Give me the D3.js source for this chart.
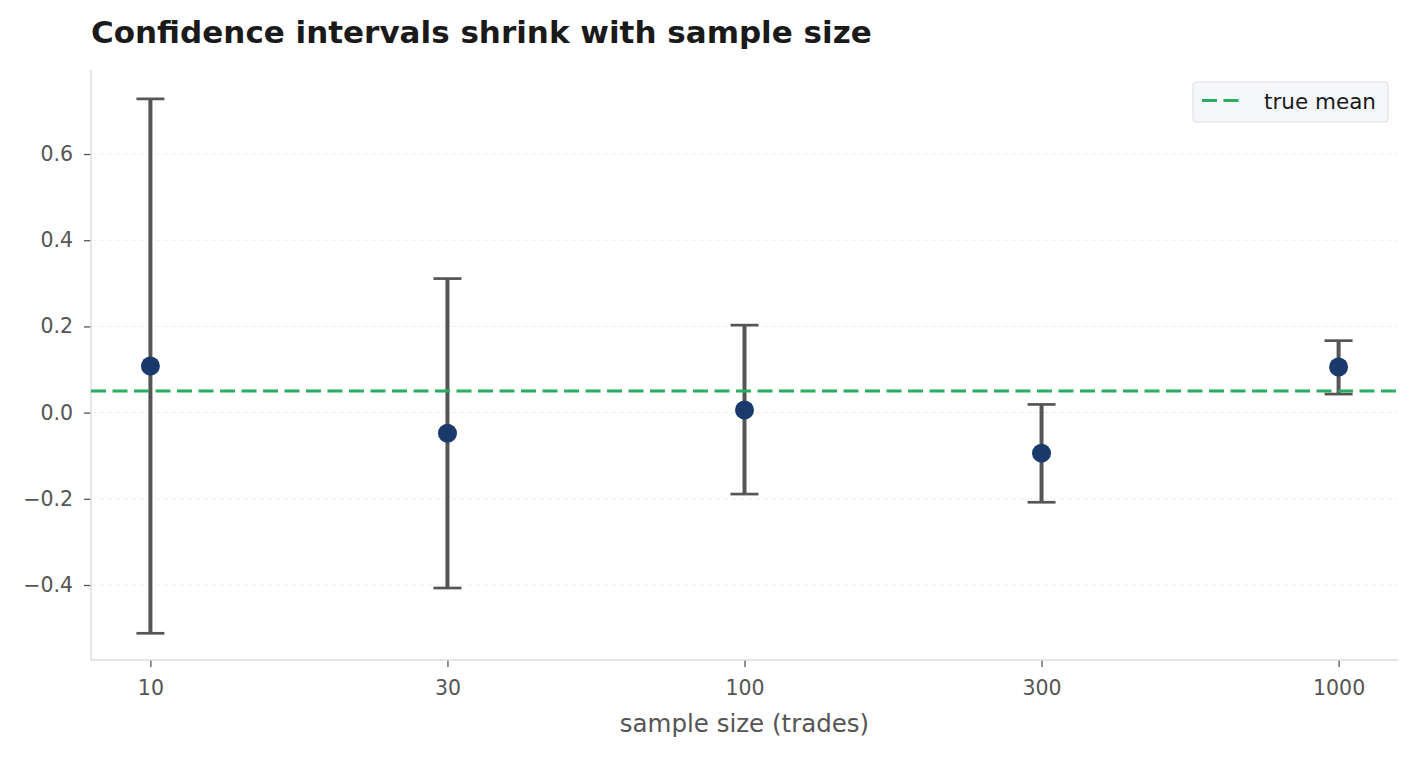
<!DOCTYPE html>
<html><head><meta charset="utf-8">
<script src="https://cdn.jsdelivr.net/npm/d3@7"></script>
<style>body{margin:0;background:#fff;} svg{display:block;font-family:"DejaVu Sans",sans-serif;}</style>
</head><body>
<svg id="c" width="1419" height="757"></svg>
<script>
const categories = ["10","30","100","300","1000"];
const means = [0.108, -0.048, 0.006, -0.094, 0.106];
const lowers = [-0.512, -0.407, -0.189, -0.208, 0.043];
const uppers = [0.728, 0.311, 0.203, 0.019, 0.167];
const trueMean = 0.05;
const yTicks = [-0.4, -0.2, 0.0, 0.2, 0.4, 0.6];

const svg = d3.select("#c");
const L = 91, R = 1398, T = 70, B = 660;
const x = d3.scaleLinear().domain([-0.2, categories.length - 1 + 0.2]).range([L, R]);
const y = d3.scaleLinear().domain([-0.574, 0.795]).range([B, T]);

// title
svg.append("text").attr("x", 91).attr("y", 43).attr("font-size", 31).attr("font-weight", "bold")
  .attr("fill", "#1a1a1a").text("Confidence intervals shrink with sample size");

// grid
svg.append("g").selectAll("line").data(yTicks).join("line")
  .attr("x1", L).attr("x2", R).attr("y1", d => y(d)).attr("y2", d => y(d))
  .attr("stroke", "#eeeff3").attr("stroke-width", 1).attr("stroke-dasharray", "5,3");

// y axis
const yAxis = svg.append("g").attr("transform", `translate(${L},0)`)
  .call(d3.axisLeft(y).tickValues(yTicks).tickSize(7).tickPadding(11)
    .tickFormat(d => d3.format(".1f")(d).replace("-", "\u2212")));
yAxis.select(".domain").remove();
yAxis.selectAll(".tick line").attr("stroke", "#555").attr("stroke-width", 1.3);
yAxis.selectAll(".tick text").attr("fill", "#555").attr("font-size", 20.5).attr("font-family", "DejaVu Sans");

// x axis
const xAxis = svg.append("g").attr("transform", `translate(0,${B})`)
  .call(d3.axisBottom(x).tickValues(categories.map((c, i) => i)).tickSize(7).tickPadding(13)
    .tickFormat(i => categories[i]));
xAxis.select(".domain").remove();
xAxis.selectAll(".tick line").attr("stroke", "#555").attr("stroke-width", 1.3);
xAxis.selectAll(".tick text").attr("fill", "#555").attr("font-size", 20.5).attr("font-family", "DejaVu Sans");

// spines
svg.append("line").attr("x1", L).attr("x2", L).attr("y1", T).attr("y2", B).attr("stroke", "#dddddd").attr("stroke-width", 1.5);
svg.append("line").attr("x1", L).attr("x2", R).attr("y1", B).attr("y2", B).attr("stroke", "#dddddd").attr("stroke-width", 1.5);

// x label
svg.append("text").attr("x", (L + R) / 2).attr("y", 732).attr("text-anchor", "middle")
  .attr("font-size", 24.5).attr("fill", "#555").text("sample size (trades)");

// error bars
const eg = svg.append("g");
categories.forEach((c, i) => {
  const cx = x(i);
  eg.append("line").attr("x1", cx).attr("x2", cx).attr("y1", y(lowers[i])).attr("y2", y(uppers[i]))
    .attr("stroke", "#555555").attr("stroke-width", 4);
  [lowers[i], uppers[i]].forEach(v => {
    eg.append("line").attr("x1", cx - 14).attr("x2", cx + 14).attr("y1", y(v)).attr("y2", y(v))
      .attr("stroke", "#555555").attr("stroke-width", 2.7);
  });
});

// true mean line
svg.append("line").attr("x1", L).attr("x2", R).attr("y1", y(trueMean)).attr("y2", y(trueMean))
  .attr("stroke", "#27ae60").attr("stroke-width", 3).attr("stroke-dasharray", "15,6.5");

// points
svg.append("g").selectAll("circle").data(means).join("circle")
  .attr("cx", (d, i) => x(i)).attr("cy", d => y(d)).attr("r", 9.5).attr("fill", "#1a3a6b");

// legend
const lg = svg.append("g");
lg.append("rect").attr("x", 1193).attr("y", 82).attr("width", 195).attr("height", 40).attr("rx", 3)
  .attr("fill", "#f5f7fa").attr("stroke", "#dcdcdc").attr("stroke-width", 1);
lg.append("line").attr("x1", 1202).attr("x2", 1240).attr("y1", 100.5).attr("y2", 100.5)
  .attr("stroke", "#27ae60").attr("stroke-width", 3).attr("stroke-dasharray", "15,6.5");
lg.append("text").attr("x", 1264).attr("y", 109).attr("font-size", 21.5).attr("fill", "#1a1a1a").text("true mean");
</script>
</body></html>
